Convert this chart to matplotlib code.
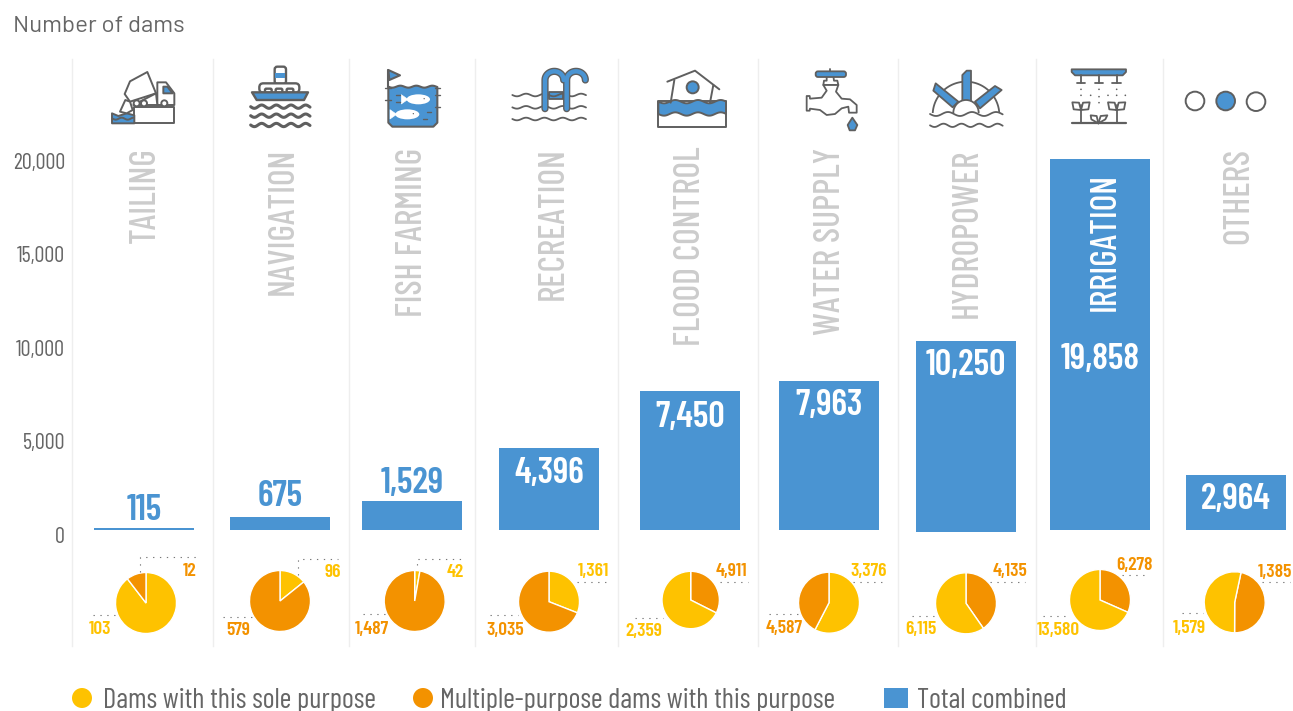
"""Dams by purpose: total bars with a sole/multiple purpose pie below each."""
import numpy as np
import matplotlib
matplotlib.use("Agg")
import matplotlib.pyplot as plt
from matplotlib.patches import Circle, Ellipse, FancyBboxPatch, Polygon, Rectangle

# ---------------------------------------------------------------------
# Data
# ---------------------------------------------------------------------
PURPOSES = ["TAILING", "NAVIGATION", "FISH FARMING", "RECREATION", "FLOOD CONTROL",
            "WATER SUPPLY", "HYDROPOWER", "IRRIGATION", "OTHERS"]
TOTALS = [115, 675, 1529, 4396, 7450, 7963, 10250, 19858, 2964]
YELLOW_VALUES = [103, 96, 42, 1361, 2359, 3376, 6115, 13580, 1579]
ORANGE_VALUES = [12, 579, 1487, 3035, 4911, 4587, 4135, 6278, 1385]
Y_TICKS = [0, 5000, 10000, 15000, 20000]
# the picture paints these two pies with the shares of the other colour
SWAPPED_WEDGES = ["FLOOD CONTROL", "WATER SUPPLY"]

# ---------------------------------------------------------------------
# Layout (reference pixels)
# ---------------------------------------------------------------------
W, H = 1293, 711
PX_PER_UNIT = 0.01868
ZERO_PY = 530

BLUE = "#4a94d2"
YELLOW = "#fec200"
ORANGE = "#f39200"
DARK = "#5f5f5f"
LIGHT = "#cccccc"
GRID = "#eeeeee"
TEXT = "#666666"
NARROW = ["Barlow Condensed", "Roboto", "DejaVu Sans"]
WIDE = ["Barlow", "Roboto", "DejaVu Sans"]

BAR_X = [144, 280, 412, 549, 690, 829, 966, 1100, 1236]
BAR_SHIFT = [0, 0, 0, 0, 0, 0, -107, 0, 0]
SEPARATORS = [72, 213, 349, 475, 617.5, 757.5, 898, 1035.5, 1163]
TOTAL_Y = [511, 497, 484, 473, 417, 406, 366, 359, 499]
NAME_POS = [(145, 147.5), (283, 147.5), (413, 147.5), (553, 147.5), (691, 146),
            (830, 147.5), (967, 148.5), (1105, 172.5), (1239, 147.5)]
PIE_C = [(146, 603), (280, 601), (414.7, 601), (549, 601.7), (690.7, 600),
         (829, 602.7), (966, 603.3), (1100, 600), (1234.7, 602.3)]
PIE_R = [30.5, 30.5, 30.5, 30.5, 28.7, 30.5, 30.5, 30.5, 30.5]
ORANGE_FIRST = [False, False, False, False, True, False, True, True, True]
PIE_START = [90, 90, 90, 90, 90, 90, 90, 90, 78]
YELLOW_LABEL = [(100, 629.5), (332.7, 572.2), (455, 572.2), (593.3, 571.5), (644.3, 631.5),
                (869, 571.5), (921, 629.8), (1058.3, 630.2), (1189.3, 628.2)]
ORANGE_LABEL = [(189.3, 571.5), (238, 630.5), (371.7, 629.2), (505, 630.5), (731.7, 571.5),
                (784.3, 628.2), (1010, 571.5), (1134.3, 565.2), (1275, 572.5)]
LEADERS = [
    [(140, 572), (140, 557.3), (200, 557.3)], [(92.7, 615), (116, 615)],
    [(297.7, 575), (297.7, 559), (338, 559)], [(223, 616.7), (251.7, 616.7)],
    [(416.7, 565), (416.7, 559), (463, 559)], [(362.7, 614), (385, 614)],
    [(576.7, 582), (606, 582)], [(490, 615.3), (518, 615.3)],
    [(720, 581.7), (748, 581.7)], [(635, 618), (663, 618)],
    [(853, 581.7), (883, 581.7)], [(769, 613.7), (800, 613.7)],
    [(990, 581.7), (1025, 581.7)], [(912, 615.7), (935, 615.7)],
    [(1121.7, 575.3), (1146.7, 575.3)], [(1043, 616), (1070, 616)],
    [(1261.7, 582.3), (1290, 582.3)], [(1181.7, 613), (1203, 613)],
]


def value_lim(zero_py):
    """y limits that put value 0 at pixel row zero_py of a full-figure axes."""
    return (zero_py - H) / PX_PER_UNIT, zero_py / PX_PER_UNIT


class Pen:
    """Draws on the pixel axes in the coordinates of a 3x crop of the icon strip."""

    def __init__(self, ax, ox, oy, lw=1.4):
        self.ax, self.ox, self.oy, self.lw = ax, ox, oy, lw

    def xy(self, x, y):
        return self.ox + x / 3, H - (self.oy + y / 3)

    def poly(self, pts, fill="white", edge=DARK, lw=None, z=5):
        pts = [self.xy(*p) for p in pts]
        self.ax.add_patch(Polygon(pts, closed=True, facecolor=fill, edgecolor=edge,
                                  linewidth=self.lw if lw is None else lw,
                                  joinstyle="round", zorder=z))

    def line(self, pts, color=DARK, lw=None, z=6):
        pts = np.array([self.xy(*p) for p in pts])
        self.ax.plot(pts[:, 0], pts[:, 1], color=color, solid_capstyle="round",
                     solid_joinstyle="round", linewidth=self.lw if lw is None else lw, zorder=z)

    def circle(self, x, y, r, fill="white", edge=DARK, lw=None, z=6):
        self.ax.add_patch(Circle(self.xy(x, y), r / 3, facecolor=fill, edgecolor=edge,
                                 linewidth=self.lw if lw is None else lw, zorder=z))

    def rrect(self, x0, y0, x1, y1, rad=6, fill="white", z=5):
        cx, cy = self.xy(x0, y1)
        self.ax.add_patch(FancyBboxPatch((cx, cy), (x1 - x0) / 3, (y1 - y0) / 3,
                                         boxstyle=f"round,pad=0,rounding_size={rad / 3}",
                                         facecolor=fill, edgecolor=DARK, linewidth=self.lw, zorder=z))

    def wave_pts(self, x0, x1, y, amp=6, period=55):
        xs = np.linspace(x0, x1, 60)
        return list(zip(xs, y + amp * np.sin((xs - x0) / period * 2 * np.pi)))

    def wave(self, x0, x1, y, amp=6, period=55, lw=None, z=6):
        self.line(self.wave_pts(x0, x1, y, amp, period), lw=lw, z=z)


def draw_tailing(ax):
    p = Pen(ax, 80, 50)
    p.poly([(163, 172), (283, 172), (283, 220), (163, 220)])
    p.poly([(96, 220), (96, 190), (115, 198), (140, 190), (163, 196), (163, 220)], fill=BLUE)
    p.wave(98, 160, 206, amp=3, period=36)
    p.poly([(134, 132), (150, 94), (202, 66), (228, 130), (150, 155)])
    p.poly([(120, 185), (136, 150), (150, 155), (158, 180), (140, 190)])
    p.poly([(232, 97), (258, 97), (283, 130), (283, 165), (232, 165)])
    p.poly([(250, 110), (262, 110), (278, 130), (250, 130)], fill=BLUE)
    p.poly([(228, 130), (232, 165), (160, 165)])
    for x in (170, 192, 253):
        p.circle(x, 160, 9)


def draw_navigation(ax):
    p = Pen(ax, 80, 50, lw=1.7)
    p.rrect(584, 50, 618, 102, rad=8)
    ax.add_patch(Rectangle(p.xy(586, 85), 30 / 3, 15 / 3, facecolor=BLUE, edgecolor="none", zorder=6))
    p.rrect(538, 100, 658, 128, rad=12)
    for x in (555, 587, 620):
        p.rrect(x, 116, x + 20, 128, rad=4)
    p.poly([(516, 127), (684, 127), (672, 150), (530, 150)], fill=BLUE, z=6)
    for y in (170, 197, 225):
        p.wave(512, 690, y, amp=5, period=44, lw=2.2)


def draw_fish(ax):
    p = Pen(ax, 80, 50, lw=1.5)
    p.line([(925, 60), (925, 112)])
    p.poly([(925, 60), (960, 76), (928, 90)], fill=BLUE)
    top = p.wave_pts(925, 1072, 110, amp=3, period=48)
    p.poly(top + [(1072, 218), (1060, 230), (937, 230), (925, 218)], fill=BLUE)
    for cx, cy, w in ((1015, 148, 70), (982, 193, 72)):
        p.poly([(cx - w / 2 - 16, cy - 14), (cx - w / 2 + 4, cy), (cx - w / 2 - 16, cy + 14)],
               edge="white", lw=0.4, z=6)
        ax.add_patch(Ellipse(p.xy(cx, cy), w / 3, 30 / 3, facecolor="white", edgecolor="none", zorder=6))
        p.circle(cx + w / 4, cy - 2, 2, fill=DARK, lw=0, z=7)
    for x0, y in ((948, 135), (948, 155), (1040, 187), (1030, 207)):
        p.line([(x0, y), (x0 + 12, y)], lw=1.0)
    for x0, x1, y in ((915, 932, 113), (915, 932, 150), (1065, 1080, 113),
                      (1065, 1080, 135), (1065, 1080, 170)):
        p.line([(x0, y), (x1, y)], lw=1.0)


def draw_recreation(ax):
    p = Pen(ax, 480, 50, lw=1.3)
    for y in (135, 172, 207):
        p.wave(97, 318, y, amp=4, period=55)
    for x in (195, 260):
        ts = np.linspace(np.pi, 0, 30)
        arc = [(x + 28 + 28 * np.cos(t), 90 - 26 * np.sin(t)) for t in ts]
        pts = [(x, 176)] + arc
        p.line(pts, color=DARK, lw=5.2, z=6)
        p.line(pts, color=BLUE, lw=3.2, z=7)
    p.poly([(206, 125), (250, 125), (250, 148), (206, 148)], fill=BLUE, z=5)


def draw_flood(ax):
    p = Pen(ax, 480, 50, lw=1.4)
    p.line([(562, 95), (645, 62), (718, 118)])
    p.line([(583, 90), (572, 158)])
    p.line([(700, 105), (690, 158)])
    p.circle(638, 112, 18, fill=BLUE)
    p.poly([(535, 152), (738, 152), (738, 230), (535, 230)], z=4)
    up = p.wave_pts(535, 738, 155, amp=5, period=68)
    low = p.wave_pts(535, 738, 192, amp=5, period=68)[::-1]
    p.poly(up + low, fill=BLUE, z=5)


def draw_tap(ax):
    p = Pen(ax, 480, 50, lw=1.3)
    p.line([(1050, 56), (1050, 66)])
    p.poly([(1040, 78), (1060, 78), (1062, 92), (1072, 92), (1075, 105), (1030, 105),
            (1032, 92), (1040, 92)], z=5)
    p.rrect(1007, 64, 1098, 81, rad=7, fill=BLUE, z=6)
    p.poly([(980, 138), (989, 138), (990, 146), (1025, 143), (1040, 122), (1030, 105), (1075, 105),
            (1068, 125), (1085, 146), (1110, 148), (1130, 165), (1130, 188), (1107, 188), (1105, 170),
            (1085, 175), (1065, 192), (1040, 195), (1020, 180), (990, 176), (989, 182), (980, 182)])
    p.poly([(1117, 203), (1132, 225), (1125, 241), (1109, 241), (1103, 225)], fill=BLUE)


def draw_hydro(ax):
    p = Pen(ax, 890, 50, lw=1.3)
    ts = np.linspace(0, np.pi, 50)
    p.line([(228 + 100 * np.cos(t), 195 - 100 * np.sin(t)) for t in ts], z=4)
    p.poly([(217, 75), (230, 62), (243, 62), (243, 155), (217, 155)], fill=BLUE)
    p.poly([(130, 122), (137, 100), (205, 155), (188, 172)], fill=BLUE)
    p.poly([(255, 155), (315, 108), (335, 120), (270, 175)], fill=BLUE)
    p.circle(228, 188, 38, z=7)
    p.poly([(120, 190), (338, 190), (338, 250), (120, 250)], edge="none", lw=0, z=7)
    p.wave(120, 338, 192, amp=6, period=72, z=8)
    p.wave(120, 338, 226, amp=5, period=54, z=8)


def draw_irrigation(ax):
    p = Pen(ax, 890, 50, lw=1.3)
    p.poly([(545, 58), (708, 58), (708, 66), (698, 76), (555, 76), (545, 66)], fill=BLUE)
    for x in (573, 627, 680):
        p.line([(x, 76), (x, 98)])
        p.line([(x - 13, 98), (x + 13, 98)])
    dots = [(573, 118), (627, 118), (680, 118), (573, 136), (602, 136), (627, 140), (654, 136),
            (680, 136), (706, 136), (627, 158)]
    for x, y in dots:
        p.circle(x, y, 2.5, fill=DARK, lw=0)
    p.line([(545, 220), (708, 220)], lw=1.6)
    for x in (573, 680):
        p.line([(x, 220), (x, 165)])
        p.line([(x, 180), (x - 22, 178), (x - 26, 157), (x - 6, 158), (x, 180)])
        p.line([(x, 180), (x + 22, 178), (x + 26, 157), (x + 6, 158), (x, 180)])
    p.line([(625, 220), (604, 208), (602, 196), (620, 198), (625, 220)])
    p.line([(625, 220), (646, 208), (652, 196), (632, 198), (625, 220)])


def draw_others(ax):
    p = Pen(ax, 890, 50, lw=1.4)
    p.circle(915, 153, 28)
    p.circle(1007, 153, 28, fill=BLUE)
    p.circle(1098, 155, 28)


def main():
    fig = plt.figure(figsize=(W / 100, H / 100), dpi=100, facecolor="white")

    # Bars on a value axis whose zero sits at the bars' baseline
    ax = fig.add_axes([0, 0, 1, 1])
    ax.set_xlim(0, W)
    ax.set_ylim(*value_lim(ZERO_PY))
    ax.axis("off")
    ax.bar(BAR_X, TOTALS, width=100, bottom=BAR_SHIFT, color=BLUE, zorder=3)

    # The printed scale sits a few pixels below the bars' baseline
    scale = fig.add_axes([0, 0, 1, 1], facecolor="none")
    scale.set_xlim(0, W)
    scale.set_ylim(*value_lim(ZERO_PY + 4.6))
    for side in scale.spines.values():
        side.set_visible(False)
    scale.set_xticks([])
    scale.set_yticks(Y_TICKS, [f"{v:,}" for v in Y_TICKS])
    scale.tick_params(axis="y", length=0, pad=-46.8, labelsize=16, labelcolor=TEXT)
    for label in scale.get_yticklabels():
        label.set_family(NARROW)
        label.set_ha("right")

    # Everything else in pixel coordinates, y up
    px = fig.add_axes([0, 0, 1, 1], facecolor="none")

    for x in SEPARATORS:
        px.plot([x, x], [H - 59, H - 646], color=GRID, linewidth=1.0, zorder=1)

    for name, (x, y) in zip(PURPOSES, NAME_POS):
        color = "white" if name == "IRRIGATION" else LIGHT
        px.text(x, H - y, name, rotation=90, ha="center", va="top", color=color,
                fontsize=25.6, fontweight=500, family=NARROW, zorder=5)

    for i, total in enumerate(TOTALS):
        color = BLUE if total < 2000 else "white"
        px.text(BAR_X[i], H - TOTAL_Y[i], f"{total:,}", ha="center", va="center", color=color,
                fontsize=26, fontweight=600, family=NARROW, zorder=5)

    for i, name in enumerate(PURPOSES):
        yellow, orange = YELLOW_VALUES[i], ORANGE_VALUES[i]
        if name in SWAPPED_WEDGES:
            yellow, orange = orange, yellow
        if ORANGE_FIRST[i]:
            sizes, colors = [orange, yellow], [ORANGE, YELLOW]
        else:
            sizes, colors = [yellow, orange], [YELLOW, ORANGE]
        cx, cy = PIE_C[i]
        px.pie(sizes, colors=colors, center=(cx, H - cy), radius=PIE_R[i], startangle=PIE_START[i],
               counterclock=False, frame=False, wedgeprops={"edgecolor": "white", "linewidth": 1.0})
        for (x, y), value, color in ((YELLOW_LABEL[i], YELLOW_VALUES[i], YELLOW),
                                     (ORANGE_LABEL[i], ORANGE_VALUES[i], ORANGE)):
            px.text(x, H - y, f"{value:,}", ha="center", va="center", color=color,
                    fontsize=14, fontweight=600, family=NARROW, zorder=6)

    for pts in LEADERS:
        xs, ys = zip(*pts)
        px.plot(xs, [H - y for y in ys], color="#777777", linewidth=0.8,
                linestyle=(0, (1.2, 5)), zorder=2)

    draw_tailing(px)
    draw_navigation(px)
    draw_fish(px)
    draw_recreation(px)
    draw_flood(px)
    draw_tap(px)
    draw_hydro(px)
    draw_irrigation(px)
    draw_others(px)

    px.text(13, H - 26.5, "Number of dams", ha="left", va="center", color=TEXT,
            fontsize=17.3, family=WIDE)

    # Legend
    px.add_patch(Circle((82, H - 698), 10, facecolor=YELLOW, edgecolor="none"))
    px.add_patch(Circle((423, H - 698), 10, facecolor=ORANGE, edgecolor="none"))
    px.add_patch(Rectangle((884, H - 708), 24, 20, facecolor=BLUE, edgecolor="none"))
    for x, label in ((103, "Dams with this sole purpose"),
                     (440, "Multiple-purpose dams with this purpose"),
                     (917, "Total combined")):
        px.text(x, H - 700.5, label, ha="left", va="center", color=TEXT, fontsize=20.6, family=NARROW)

    px.set_aspect("equal")
    px.set_xlim(0, W)
    px.set_ylim(0, H)
    px.axis("off")

    fig.savefig("out.png", dpi=100, facecolor="white")
    plt.close(fig)


if __name__ == "__main__":
    main()
